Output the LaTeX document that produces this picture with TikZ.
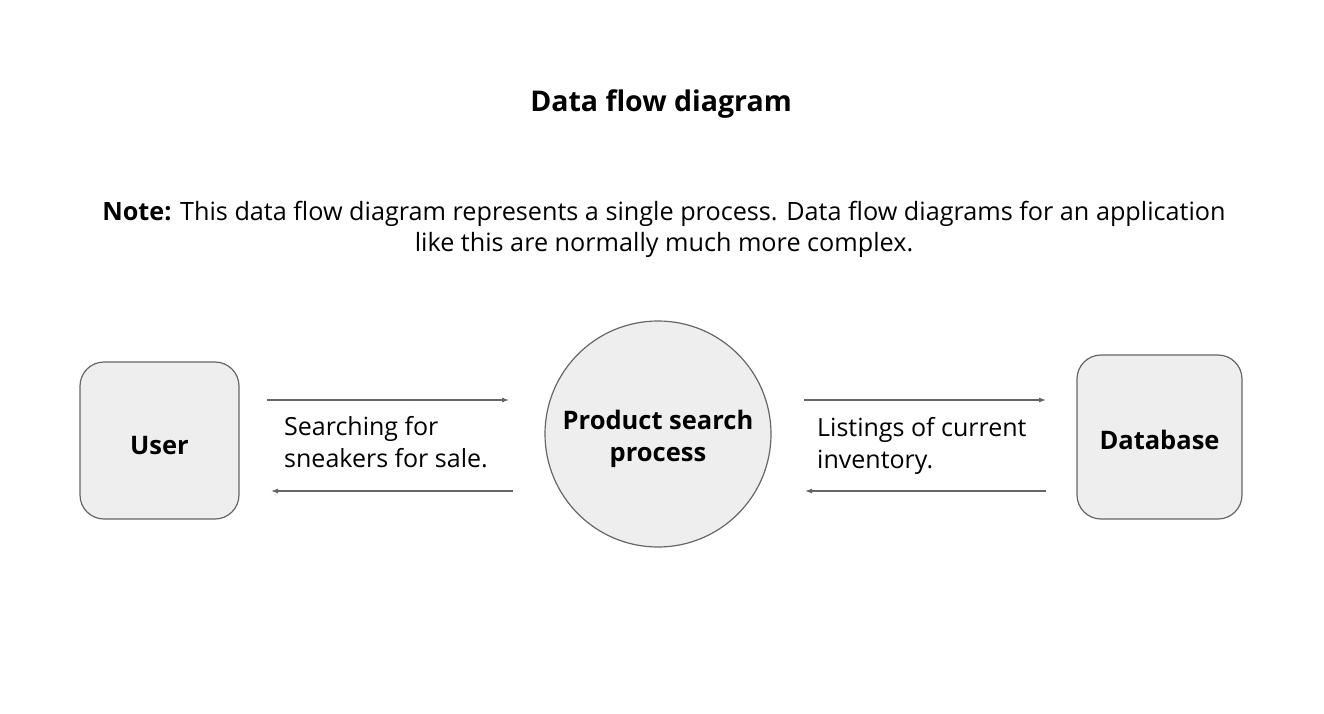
\documentclass[tikz,border=0pt]{standalone}
\usepackage{fontspec}
\setmainfont{Open Sans}
\usetikzlibrary{arrows.meta}
\definecolor{boxfill}{HTML}{EEEEEE}
\definecolor{edge}{HTML}{666666}
\begin{document}
\begin{tikzpicture}[x=1pt,y=-1pt,
  entity/.style={draw=edge,line width=1.2pt,fill=boxfill,rounded corners=24pt,inner sep=0pt},
  proc/.style={draw=edge,line width=1.2pt,fill=boxfill,circle,inner sep=0pt,minimum size=226pt},
  flow/.style={draw=edge,line width=1.1pt,-{Latex[length=7pt,width=5pt]}},
  label/.style={font=\fontsize{25}{32}\selectfont,align=left,anchor=west,inner sep=0pt},
  bold/.style={font=\fontsize{25.5}{32}\selectfont\bfseries,align=center}]
\useasboundingbox (0,0) rectangle (1324,714);
\node[font=\fontsize{28.5}{34}\selectfont\bfseries] (title) at (661,104) {Data flow diagram};
\node[font=\fontsize{25.2}{31}\selectfont,align=center] (note) at (664,229)
  {\textbf{Note:} This data flow diagram represents a single process. Data flow diagrams for an application\\
   like this are normally much more complex.};
\node[entity,minimum width=159pt,minimum height=157pt] (user) at (159.5,440.5) {};
\node[bold] at ([yshift=-5pt]user.center) {User};
\node[proc] (process) at (658,434) {};
\node[bold] at ([yshift=-5pt]process.center) {Product search\\process};
\node[entity,minimum width=165pt,minimum height=164pt] (db) at (1159.5,437) {};
\node[bold] at ([yshift=-3pt]db.center) {Database};
\coordinate (a1s) at (267,400); \coordinate (a1e) at (509,400);
\coordinate (a2s) at (513,491); \coordinate (a2e) at (271,491);
\coordinate (a3s) at (804,400); \coordinate (a3e) at (1046,400);
\coordinate (a4s) at (1046,491); \coordinate (a4e) at (805,491);
\draw[flow] (a1s) -- (a1e);
\draw[flow] (a2s) -- (a2e);
\draw[flow] (a3s) -- (a3e);
\draw[flow] (a4s) -- (a4e);
\node[label] (lab1) at (284,442) {Searching for\\sneakers for sale.};
\node[label] (lab2) at (817,446) {Listings of current\\inventory.};
\end{tikzpicture}
\end{document}
